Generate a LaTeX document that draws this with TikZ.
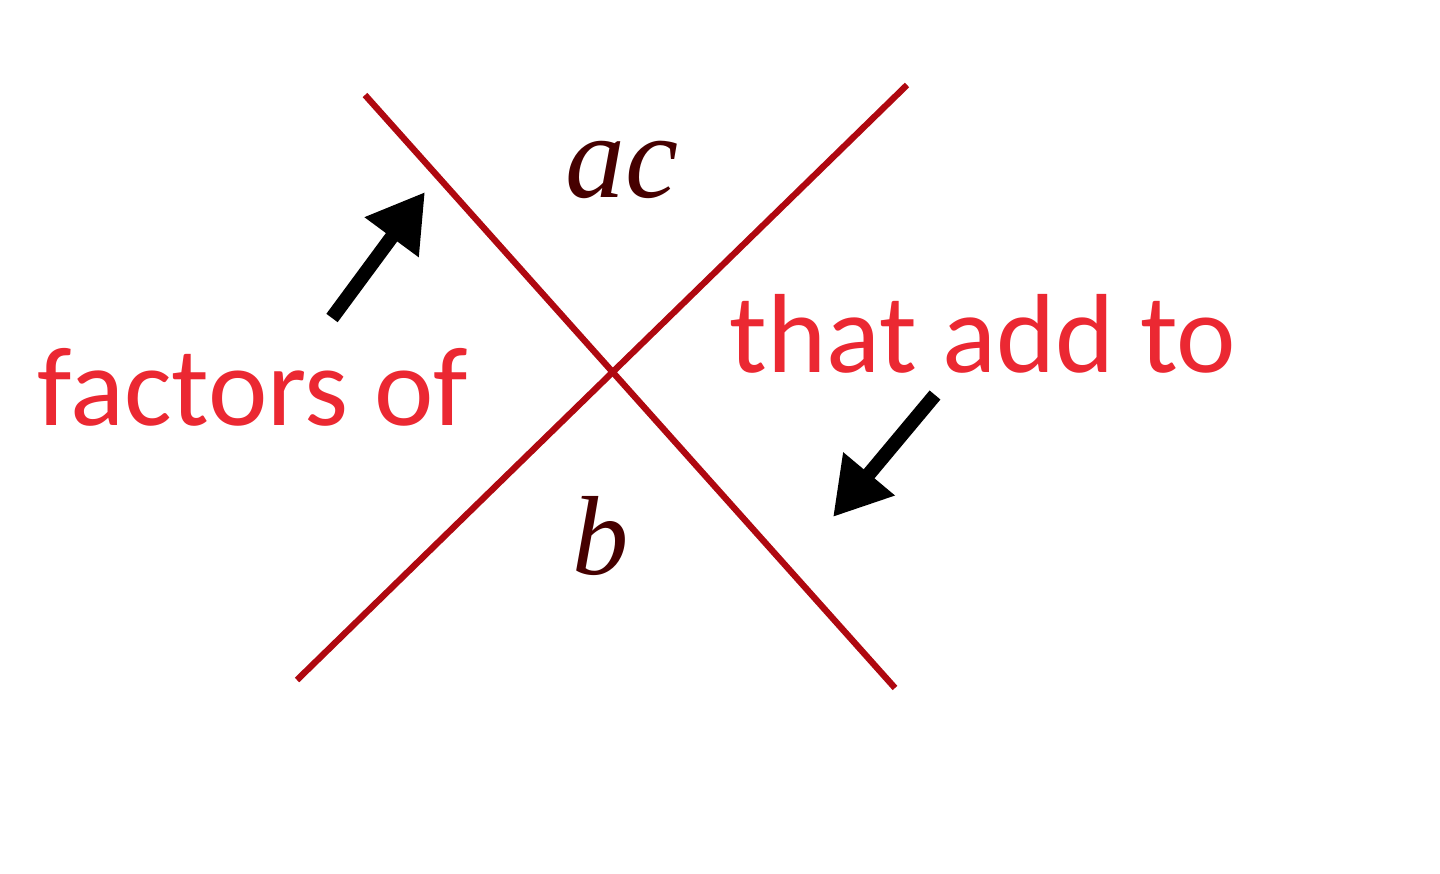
\documentclass[tikz,border=0pt]{standalone}
\usepackage{fontspec}
\setmainfont{Liberation Serif}
\newfontfamily\labelfont{Carlito}
\usetikzlibrary{arrows.meta}
\definecolor{linered}{RGB}{175,8,16}
\definecolor{textred}{RGB}{235,40,50}
\definecolor{mathdark}{RGB}{70,0,0}
\tikzset{
  crossline/.style={draw=linered, line width=1.8pt},
  redlabel/.style={text=textred, font=\labelfont\fontsize{32}{38}\selectfont, anchor=base, inner sep=0pt},
  mathlabel/.style={text=mathdark, font=\itshape\fontsize{34}{40}\selectfont, anchor=base, inner sep=0pt},
  fatarrow/.style={line width=4pt, -{Triangle[width=18pt,length=16pt]}, black}
}
\begin{document}
\begin{tikzpicture}[x=0.01cm,y=-0.01cm]
\useasboundingbox (0,0) rectangle (1440,873);
\coordinate (l1a) at (365,95);
\coordinate (l1b) at (895,688);
\coordinate (l2a) at (297,680);
\coordinate (l2b) at (907,85);
\draw[crossline] (l1a) -- (l1b);
\draw[crossline] (l2a) -- (l2b);
\node[mathlabel] (ac) at (622,198) {ac};
\node[mathlabel, font=\itshape\fontsize{32}{38}\selectfont] (b) at (601,574) {b};
\node[redlabel] (fo) at (253,425) {factors of};
\node[redlabel] (ta) at (983,372) {that add to};
\coordinate (a1s) at (332,318);
\coordinate (a1e) at (425,192);
\coordinate (a2s) at (935,395);
\coordinate (a2e) at (833,517);
\draw[fatarrow] (a1s) -- (a1e);
\draw[fatarrow] (a2s) -- (a2e);
\end{tikzpicture}
\end{document}
